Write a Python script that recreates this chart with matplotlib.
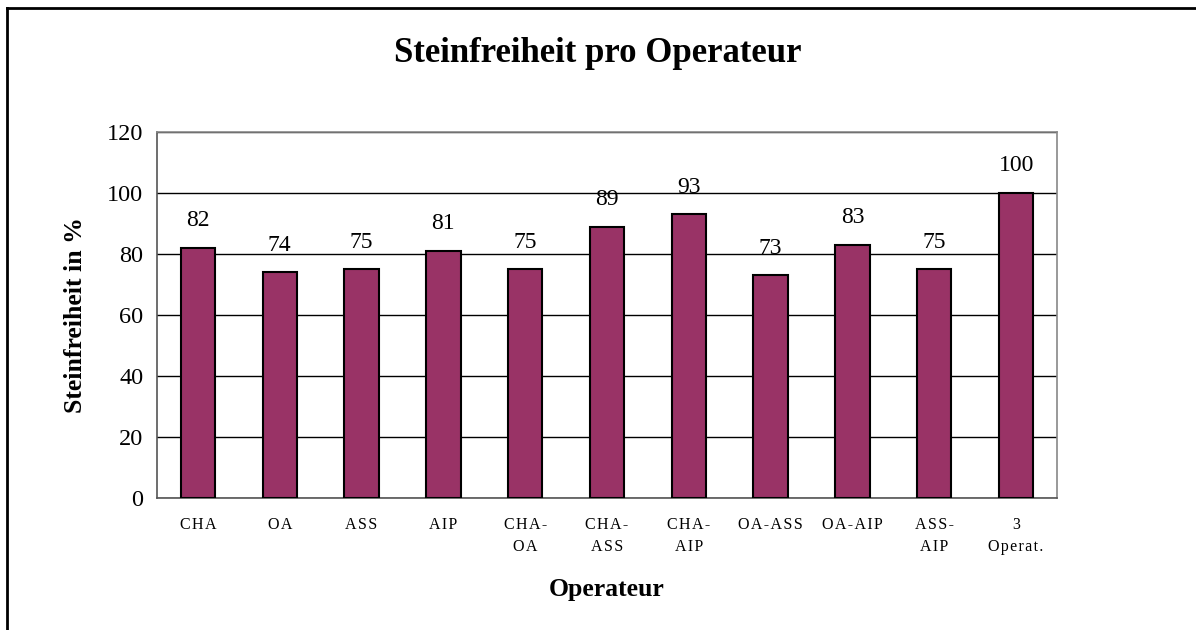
import matplotlib
matplotlib.use("Agg")
import matplotlib.pyplot as plt
from matplotlib.lines import Line2D

operateure = ["CHA", "OA", "ASS", "AIP", "CHA-\nOA", "CHA-\nASS", "CHA-\nAIP",
              "OA-ASS", "OA-AIP", "ASS-\nAIP", "3\nOperat."]
steinfreiheit = [82, 74, 75, 81, 75, 89, 93, 73, 83, 75, 100]
yTicks = [0, 20, 40, 60, 80, 100, 120]

plt.rcParams["font.family"] = ["Liberation Serif", "DejaVu Serif"]


def spaced(label):
    # Excel draws the category labels with a bit of letter spacing
    return "\n".join("\u200a".join(line) for line in label.split("\n"))


fig = plt.figure(figsize=(11.96, 6.3), dpi=100)
ax = fig.add_axes([0.1313, 0.2095, 0.7525, 0.581])

x = list(range(len(operateure)))
ax.bar(x, steinfreiheit, width=0.42, color="#993366", edgecolor="black", linewidth=1.5, zorder=3)

for xi, v in zip(x, steinfreiheit):
    ax.annotate(str(v), (xi, v), xytext=(0, 12), textcoords="offset points",
                ha="center", va="bottom", fontsize=17)

ax.set_xlim(-0.5, len(operateure) - 0.5)
ax.set_ylim(0, 120)
ax.set_yticks(yTicks)
ax.yaxis.grid(True, color="black", linewidth=1, zorder=0)
ax.set_axisbelow(True)
ax.tick_params(axis="y", labelsize=17.5, length=0, pad=10)
ax.set_xticks(x)
ax.set_xticklabels([spaced(o) for o in operateure], fontsize=11.5, linespacing=1.45)
ax.tick_params(axis="x", length=0, pad=14)
for lbl in ax.get_xticklabels():
    lbl.set_verticalalignment("top")

for s in ["top", "right"]:
    ax.spines[s].set_color("#888888")
for s in ["left", "bottom"]:
    ax.spines[s].set_color("#555555")
for s in ax.spines.values():
    s.set_linewidth(1.2)

ax.set_xlabel("Operateur", fontsize=18.5, fontweight="bold", labelpad=17)
ax.set_ylabel("Steinfreiheit in %", fontsize=18.5, fontweight="bold", labelpad=14)
fig.text(0.5, 0.915, "Steinfreiheit pro Operateur", ha="center", va="center",
         fontsize=25, fontweight="bold")

# outer chart frame (only top and left are visible in the picture)
fig.add_artist(Line2D([7 / 1196, 1.0], [1 - 8 / 630, 1 - 8 / 630], transform=fig.transFigure, color="black", linewidth=2))
fig.add_artist(Line2D([7 / 1196, 7 / 1196], [0, 1 - 8 / 630], transform=fig.transFigure, color="black", linewidth=2))

plt.savefig("out.png", dpi=100)
